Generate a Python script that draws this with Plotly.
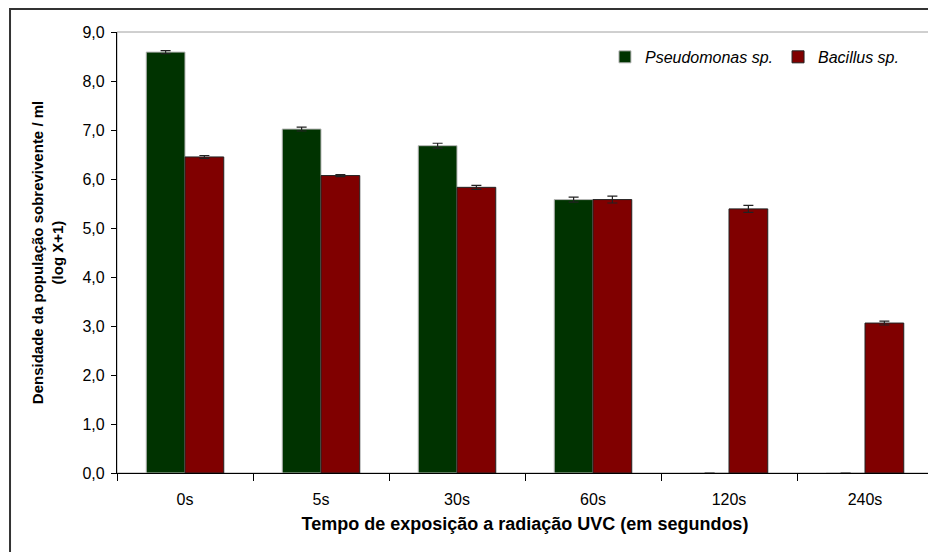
import plotly.graph_objects as go

categories = ["0s", "5s", "30s", "60s", "120s", "240s"]
pseudomonas = [8.59, 7.02, 6.68, 5.58, 0.0, 0.0]
pseudomonas_err = [0.03, 0.04, 0.05, 0.05, 0.0, 0.0]
bacillus = [6.45, 6.07, 5.83, 5.58, 5.39, 3.06]
bacillus_err = [0.03, 0.02, 0.04, 0.07, 0.07, 0.04]
y_ticks = [0, 1, 2, 3, 4, 5, 6, 7, 8, 9]

FONT = "Liberation Sans, Arial, sans-serif"

fig = go.Figure()
fig.add_trace(go.Bar(
    name="<i>Pseudomonas sp.</i>", x=categories, y=pseudomonas,
    marker=dict(color="#003300", line=dict(color="#b8b8b8", width=1)),
    error_y=dict(type="data", array=pseudomonas_err, color="#222222", thickness=1.2, width=5),
))
fig.add_trace(go.Bar(
    name="<i>Bacillus sp.</i>", x=categories, y=bacillus,
    marker=dict(color="#800000", line=dict(color="#222222", width=1)),
    error_y=dict(type="data", array=bacillus_err, color="#222222", thickness=1.2, width=5),
))

# the page body adds an 8px margin, so the figure is 928x544 placed at (8,8)
fig.update_layout(
    width=928, height=544,
    margin=dict(l=109, r=3, t=24, b=79),
    paper_bgcolor="white", plot_bgcolor="white",
    barmode="group", bargap=0.43, bargroupgap=0,
    separators=",.",
    font=dict(family=FONT, size=16, color="black"),
    showlegend=True,
    legend=dict(orientation="h", x=0.598, y=0.982, xanchor="left", yanchor="top",
                font=dict(size=16), bgcolor="rgba(0,0,0,0)", traceorder="normal",
                itemwidth=30),
    shapes=[
        dict(type="rect", xref="paper", yref="paper", x0=0, x1=1, y0=0, y1=1,
             line=dict(color="#a0a0a0", width=1), layer="below"),
        dict(type="rect", xref="paper", yref="paper", x0=-0.1311, x1=1.02, y0=-0.2, y1=1.052,
             line=dict(color="#333333", width=2), layer="above"),
    ],
)

fig.update_xaxes(
    type="category", tickson="boundaries", ticks="outside", ticklen=7, tickcolor="black",
    showline=True, linecolor="black", linewidth=1.2, showgrid=False,
    tickfont=dict(size=16), ticklabelstandoff=12,
    title=dict(text="<b>Tempo de exposição a radiação UVC (em segundos)</b>",
               font=dict(size=18), standoff=10),
)
fig.update_yaxes(
    range=[0, 9], tickvals=y_ticks, tickformat=".1f", ticks="outside", ticklen=5,
    tickcolor="black", showline=True, linecolor="black", linewidth=1.2, showgrid=False,
    zeroline=False, tickfont=dict(size=16), ticklabelstandoff=3,
    title=dict(text="<b>Densidade da população sobrevivente / ml<br>(log X+1)</b>",
               font=dict(size=15), standoff=15),
)

fig.write_html("out.html")
